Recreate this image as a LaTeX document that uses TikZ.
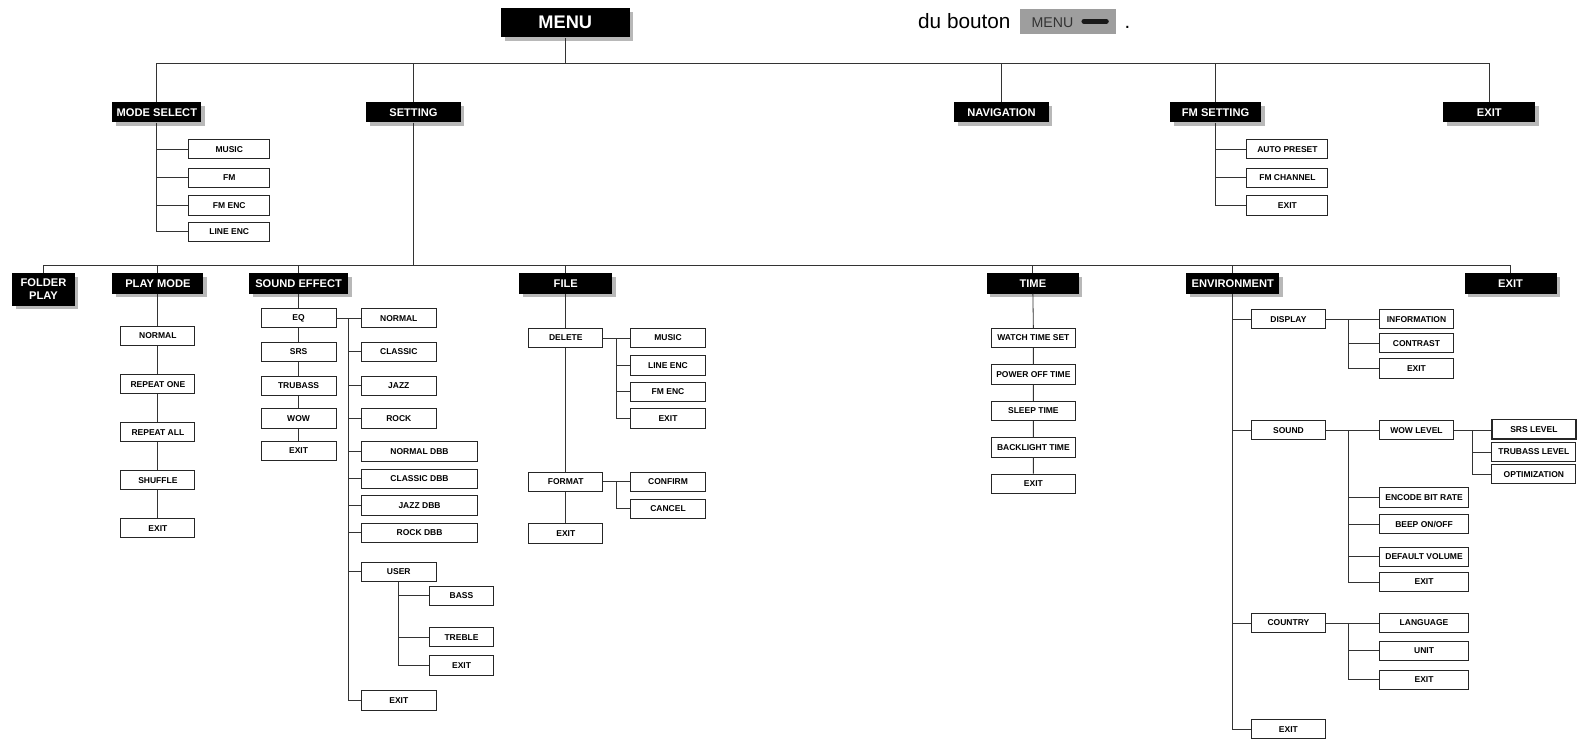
\documentclass[tikz,border=0pt]{standalone}
\usepackage{fontspec}
\setmainfont{Liberation Sans}
\usetikzlibrary{shadows}
\tikzset{
  hd/.style={fill=black, text=white, font=\fontsize{11}{13}\selectfont\bfseries, inner sep=0pt, minimum height=20pt, align=center,
    general shadow={fill=black!28, shadow xshift=3.5pt, shadow yshift=-3.5pt}},
  bx/.style={draw=black!85, line width=0.9pt, fill=white, font=\fontsize{8.4}{9}\selectfont\bfseries, inner sep=0pt, minimum height=19pt},
  ln/.style={line width=0.8pt, draw=black!80},
}
\begin{document}
\begin{tikzpicture}[x=1pt,y=-1pt]
\useasboundingbox (0,0) rectangle (1568,734);
% top text
\node[anchor=base west, font=\fontsize{20.5}{21}\selectfont, inner sep=0pt] (du) at (907,28) {du bouton};
\node[fill=black!38, minimum width=95pt, minimum height=25pt, inner sep=0pt] (btn) at (1055.5,21.5) {};
\node[anchor=base west, font=\fontsize{14}{15}\selectfont, text=black!80, inner sep=0pt] (btnt) at (1019,27) {MENU};
\draw[line width=5pt, line cap=round, black!90] (1071,21) -- (1093,21);
\node[anchor=base west, font=\fontsize{20}{21}\selectfont, inner sep=0pt] (dot) at (1111,28) {.};
% level 0 and 1
\node[hd, font=\fontsize{18}{19}\selectfont\bfseries, minimum width=127pt, minimum height=29pt] (menu) at (558.5,22.5) {MENU};
\coordinate (b1) at (0,63);
\node[hd, minimum width=88pt] (ms) at (155,111) {MODE SELECT};
\node[hd, minimum width=93pt] (set) at (408.5,111) {SETTING};
\node[hd, minimum width=93pt] (nav) at (989.5,111) {NAVIGATION};
\node[hd, minimum width=90pt] (fms) at (1201,111) {FM SETTING};
\node[hd, minimum width=91pt] (ex1) at (1471.5,111) {EXIT};
\draw[ln] (menu.south) -- (menu.south |- b1);
\draw[ln] (ms.north) |- (ex1.north |- b1) -- (ex1.north);
\draw[ln] (set.north) -- (set.north |- b1);
\draw[ln] (nav.north) -- (nav.north |- b1);
\draw[ln] (fms.north) -- (fms.north |- b1);
% mode select children
\node[bx, minimum width=80pt] (msa) at (226.5,147.5) {MUSIC};
\node[bx, minimum width=80pt] (msb) at (226.5,175.5) {FM};
\node[bx, minimum width=80pt] (msc) at (226.5,203) {FM ENC};
\node[bx, minimum width=80pt] (msd) at (226.5,229) {LINE ENC};
\draw[ln] (ms.south) |- (msd.west);
\foreach \n in {msa,msb,msc} \draw[ln] (\n.west) -- (\n.west -| ms.south);
% fm setting children
\node[bx, minimum width=80pt] (fa) at (1272,147.5) {AUTO PRESET};
\node[bx, minimum width=80pt] (fb) at (1272,175.5) {FM CHANNEL};
\node[bx, minimum width=80pt] (fc) at (1272,203) {EXIT};
\draw[ln] (fms.south) |- (fc.west);
\foreach \n in {fa,fb} \draw[ln] (\n.west) -- (\n.west -| fms.south);
% level 2
\coordinate (b2) at (0,262);
\node[hd, minimum width=62pt, minimum height=32pt] (fp) at (43,286) {FOLDER\\PLAY};
\node[hd, minimum width=90pt] (pm) at (156,280) {PLAY MODE};
\node[hd, minimum width=98pt] (se) at (295,280) {SOUND EFFECT};
\node[hd, minimum width=92pt] (fi) at (559,280) {FILE};
\node[hd, minimum width=91pt] (tm) at (1020.5,280) {TIME};
\node[hd, minimum width=92pt] (env) at (1218,280) {ENVIRONMENT};
\node[hd, minimum width=91pt] (ex2) at (1492.5,280) {EXIT};
\draw[ln] (set.south) -- (set.south |- b2);
\draw[ln] (fp.north) |- (ex2.north |- b2) -- (ex2.north);
\foreach \n in {pm,se,fi,tm,env} \draw[ln] (\n.north) -- (\n.north |- b2);
% play mode
\node[bx, minimum width=73pt] (pm1) at (156,332) {NORMAL};
\node[bx, minimum width=73pt] (pm2) at (156,379.5) {REPEAT ONE};
\node[bx, minimum width=73pt] (pm3) at (156,427) {REPEAT ALL};
\node[bx, minimum width=73pt] (pm4) at (156,474.5) {SHUFFLE};
\node[bx, minimum width=73pt] (pm5) at (156,522) {EXIT};
\draw[ln] (pm.south) -- (pm1.north) (pm1.south) -- (pm2.north) (pm2.south) -- (pm3.north) (pm3.south) -- (pm4.north) (pm4.south) -- (pm5.north);
% sound effect
\node[bx, minimum width=74pt] (eq) at (295,314.5) {EQ};
\node[bx, minimum width=74pt] (srs) at (295,347.5) {SRS};
\node[bx, minimum width=74pt] (tb) at (295,381) {TRUBASS};
\node[bx, minimum width=74pt] (wow) at (295,413.5) {WOW};
\node[bx, minimum width=74pt] (sex) at (295,445.5) {EXIT};
\draw[ln] (se.south) -- (eq.north) (eq.south) -- (srs.north) (srs.south) -- (tb.north) (tb.south) -- (wow.north) (wow.south) -- (sex.north);
\coordinate (eqj) at (344,314.5);
\node[bx, minimum width=74pt] (q1) at (394,314.5) {NORMAL};
\node[bx, minimum width=74pt] (q2) at (394,347.5) {CLASSIC};
\node[bx, minimum width=74pt] (q3) at (394,381) {JAZZ};
\node[bx, minimum width=74pt] (q4) at (394,413.5) {ROCK};
\node[bx, minimum width=115pt] (q5) at (414.5,446) {NORMAL DBB};
\node[bx, minimum width=115pt] (q6) at (414.5,473) {CLASSIC DBB};
\node[bx, minimum width=115pt] (q7) at (414.5,499.5) {JAZZ DBB};
\node[bx, minimum width=115pt] (q8) at (414.5,526.5) {ROCK DBB};
\node[bx, minimum width=74pt] (usr) at (394,565) {USER};
\node[bx, minimum width=74pt] (q10) at (394,692) {EXIT};
\draw[ln] (eq.east) -- (q1.west);
\draw[ln] (eqj) |- (q10.west);
\foreach \n in {q2,q3,q4,q5,q6,q7,q8,usr} \draw[ln] (\n.west) -- (\n.west -| eqj);
\node[bx, minimum width=64pt] (u1) at (456,588.5) {BASS};
\node[bx, minimum width=64pt] (u2) at (456,629.5) {TREBLE};
\node[bx, minimum width=64pt] (u3) at (456,657.5) {EXIT};
\draw[ln] (usr.south) |- (u3.west);
\foreach \n in {u1,u2} \draw[ln] (\n.west) -- (\n.west -| usr.south);
% file
\node[bx, minimum width=73pt] (del) at (559,334) {DELETE};
\node[bx, minimum width=73pt] (fmt) at (559,476) {FORMAT};
\node[bx, minimum width=73pt] (fix) at (559,527) {EXIT};
\draw[ln] (fi.south) -- (del.north) (del.south) -- (fmt.north) (fmt.south) -- (fix.north);
\coordinate (dj) at (609,334);
\node[bx, minimum width=74pt] (d1) at (660,334) {MUSIC};
\node[bx, minimum width=74pt] (d2) at (660,361) {LINE ENC};
\node[bx, minimum width=74pt] (d3) at (660,387) {FM ENC};
\node[bx, minimum width=74pt] (d4) at (660,413.5) {EXIT};
\draw[ln] (del.east) -- (d1.west);
\draw[ln] (dj) |- (d4.west);
\foreach \n in {d2,d3} \draw[ln] (\n.west) -- (\n.west -| dj);
\coordinate (fj) at (609,476);
\node[bx, minimum width=74pt] (c1) at (660,476) {CONFIRM};
\node[bx, minimum width=74pt] (c2) at (660,502.5) {CANCEL};
\draw[ln] (fmt.east) -- (c1.west);
\draw[ln] (fj) |- (c2.west);
% time
\node[bx, minimum width=83pt] (t1) at (1021,334) {WATCH TIME SET};
\node[bx, minimum width=83pt] (t2) at (1021,370) {POWER OFF TIME};
\node[bx, minimum width=83pt] (t3) at (1021,406) {SLEEP TIME};
\node[bx, minimum width=83pt] (t4) at (1021,442) {BACKLIGHT TIME};
\node[bx, minimum width=83pt] (t5) at (1021,478) {EXIT};
\draw[ln] (tm.south) -- (t1.north) (t1.south) -- (t2.north) (t2.south) -- (t3.north) (t3.south) -- (t4.north) (t4.south) -- (t5.north);
% environment
\node[bx, minimum width=74pt] (e1) at (1273,315.5) {DISPLAY};
\node[bx, minimum width=74pt] (e2) at (1273,425) {SOUND};
\node[bx, minimum width=74pt] (e3) at (1273,615.5) {COUNTRY};
\node[bx, minimum width=74pt] (e4) at (1273,720.5) {EXIT};
\draw[ln] (env.south) |- (e4.west);
\foreach \n in {e1,e2,e3} \draw[ln] (\n.west) -- (\n.west -| env.south);
\coordinate (ej1) at (1332,315.5);
\node[bx, minimum width=73pt] (g1) at (1399.5,315.5) {INFORMATION};
\node[bx, minimum width=73pt] (g2) at (1399.5,339) {CONTRAST};
\node[bx, minimum width=73pt] (g3) at (1399.5,364) {EXIT};
\draw[ln] (e1.east) -- (g1.west);
\draw[ln] (ej1) |- (g3.west);
\draw[ln] (g2.west) -- (g2.west -| ej1);
\coordinate (ej2) at (1332,425);
\node[bx, minimum width=73pt] (h1) at (1399.5,425) {WOW LEVEL};
\node[bx, minimum width=88pt] (h2) at (1407,491.5) {ENCODE BIT RATE};
\node[bx, minimum width=88pt] (h3) at (1407,518) {BEEP ON/OFF};
\node[bx, minimum width=88pt] (h4) at (1407,550) {DEFAULT VOLUME};
\node[bx, minimum width=88pt] (h5) at (1407,575) {EXIT};
\draw[ln] (e2.east) -- (h1.west);
\draw[ln] (ej2) |- (h5.west);
\foreach \n in {h2,h3,h4} \draw[ln] (\n.west) -- (\n.west -| ej2);
\coordinate (wj) at (1455,425);
\node[bx, line width=1.5pt, minimum width=83pt] (w1) at (1515.5,424) {SRS LEVEL};
\node[bx, minimum width=83pt] (w2) at (1515.5,446.5) {TRUBASS LEVEL};
\node[bx, minimum width=83pt] (w3) at (1515.5,468.5) {OPTIMIZATION};
\draw[ln] (h1.east) -- (w1.west |- h1.east);
\draw[ln] (wj) |- (w3.west);
\draw[ln] (w2.west) -- (w2.west -| wj);
\coordinate (ej3) at (1332,615.5);
\node[bx, minimum width=88pt] (k1) at (1407,615.5) {LANGUAGE};
\node[bx, minimum width=88pt] (k2) at (1407,643) {UNIT};
\node[bx, minimum width=88pt] (k3) at (1407,671.5) {EXIT};
\draw[ln] (e3.east) -- (k1.west);
\draw[ln] (ej3) |- (k3.west);
\draw[ln] (k2.west) -- (k2.west -| ej3);
\end{tikzpicture}
\end{document}
